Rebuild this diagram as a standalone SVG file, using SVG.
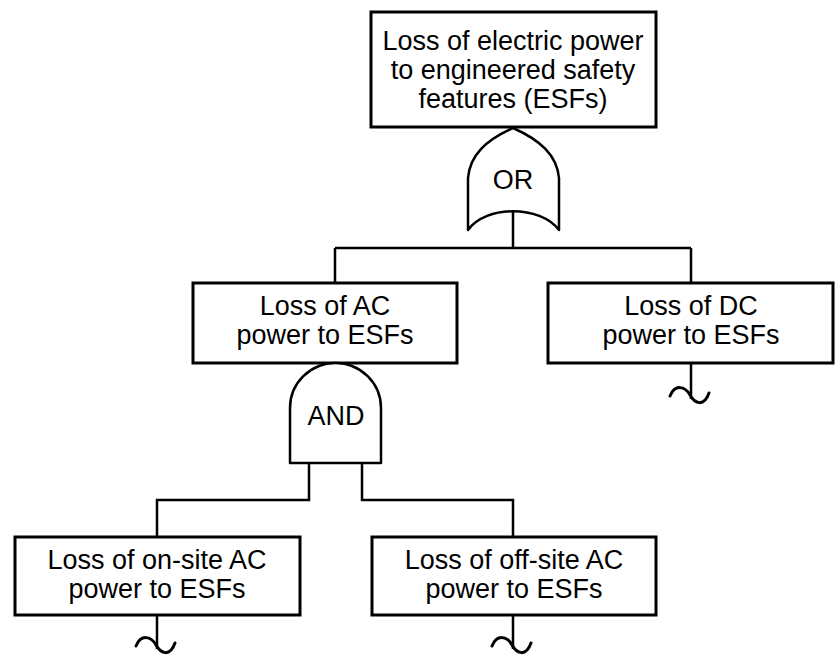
<svg xmlns="http://www.w3.org/2000/svg" width="835" height="666" viewBox="0 0 835 666">
<style>
.box{fill:#fff;stroke:#000;stroke-width:3}
.gate{fill:#fff;stroke:#000;stroke-width:2.5;stroke-linejoin:round}
.ln{fill:none;stroke:#000;stroke-width:2.5}
.tl{fill:none;stroke:#000;stroke-width:3;stroke-linecap:round}
text{font-family:"Liberation Sans",Arial,sans-serif;font-size:27px;fill:#000;text-anchor:middle}
</style>
<defs>
<path id="tilde" class="tl" d="M-21,-4 C-16,-16 -6,-14 -1,-5 C4,4 13,7 18,-7"/>
</defs>
<rect width="835" height="666" fill="#fff"/>
<g id="connectors">
<path class="ln" d="M513,212 V248 M335,248 H691 M335,248 V283 M691,248 V283"/>
<path class="ln" d="M309,463 V500 H157 V537 M362,463 V500 H513 V537"/>
<path class="ln" d="M691,363 V399 M157,615 V649 M513,615 V649"/>
<use href="#tilde" x="691" y="400"/>
<use href="#tilde" x="157" y="650"/>
<use href="#tilde" x="513" y="650"/>
</g>
<g id="top">
<rect class="box" x="371" y="12" width="285" height="115"/>
<text x="513" y="50">Loss of electric power</text>
<text x="513" y="79">to engineered safety</text>
<text x="513" y="108">features (ESFs)</text>
</g>
<g id="or-gate">
<path class="gate" d="M513,128 C540,140 557,155 559,178 V230 C540,205 486,205 468,230 V178 C470,155 486,140 513,128 Z"/>
<text x="513" y="189">OR</text>
</g>
<g id="ac">
<rect class="box" x="193" y="283" width="264" height="80"/>
<text x="325" y="315">Loss of AC</text>
<text x="325" y="344">power to ESFs</text>
</g>
<g id="dc">
<rect class="box" x="548" y="283" width="285" height="80"/>
<text x="691" y="315">Loss of DC</text>
<text x="691" y="344">power to ESFs</text>
</g>
<g id="and-gate">
<path class="gate" d="M290,463 V408 A45.5,45 0 0 1 381,408 V463 Z"/>
<text x="336" y="425">AND</text>
</g>
<g id="onsite">
<rect class="box" x="15" y="537" width="285" height="78"/>
<text x="157" y="569">Loss of on-site AC</text>
<text x="157" y="598">power to ESFs</text>
</g>
<g id="offsite">
<rect class="box" x="372" y="537" width="284" height="78"/>
<text x="514" y="569">Loss of off-site AC</text>
<text x="514" y="598">power to ESFs</text>
</g>
</svg>
